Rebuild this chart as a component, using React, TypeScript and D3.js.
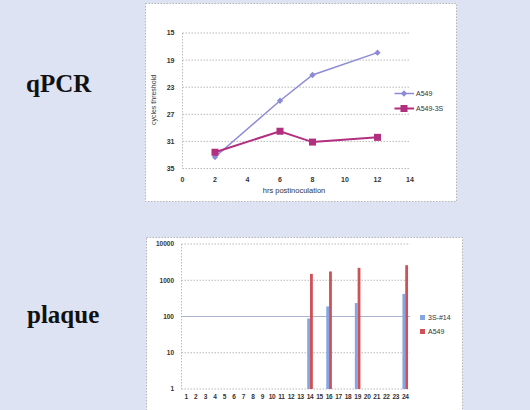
import React from 'react';
import * as d3 from 'd3';

// qPCR panel
const hours = [2, 6, 8, 12];
const ctA549 = [33.3, 25.0, 21.2, 17.9];
const ctA5493S = [32.6, 29.5, 31.1, 30.4];
const ctTicks = [15, 19, 23, 27, 31, 35];
const hourTicks = [0, 2, 4, 6, 8, 10, 12, 14];

// plaque panel
const samples = ['1', '2', '3', '4', '5', '6', '7', '8', '9', '10', '11', '12', '13', '14', '15', '16', '17', '18', '19', '20', '21', '22', '23', '24'];
const plaque3S = [null, null, null, null, null, null, null, null, null, null, null, null, null, 88, null, 190, null, null, 235, null, null, null, null, 420];
const plaqueA549 = [null, null, null, null, null, null, null, null, null, null, null, null, null, 1500, null, 1750, null, null, 2200, null, null, null, null, 2600];
const logTicks = [1, 10, 100, 1000, 10000];

const BG = '#dde3f3';
const LAV = '#8d8bd6';
const MAG = '#b22f7f';
const BAR_BLUE = '#86a6e2';
const BAR_RED = '#cf5055';
const GRID = '#b9b9b9';
const TXT = '#333';
const SANS = 'Liberation Sans, Arial, sans-serif';

export default function App() {
  const x = d3.scaleLinear().domain([0, 14]).range([182.5, 410]);
  const y = d3.scaleLinear().domain([15, 35]).range([33, 168.5]);
  const line = d3.line<number>().x((_, i) => x(hours[i])).y(d => y(d));

  const xb = d3.scaleBand().domain(samples).range([181.5, 410]);
  const yb = d3.scaleLog().domain([1, 10000]).range([389, 244]);
  const bw = 2.8;

  // small square diamond like Excel's marker
  const diamond = d3.symbol(d3.symbolSquare, 20)()!;

  return (
    <svg width={530} height={410} style={{ position: 'absolute', left: 0, top: 0 }}>
      <rect x={0} y={0} width={530} height={410} fill={BG} />

      {/* panel titles */}
      <text x={26} y={92} fontFamily="Liberation Serif, Times New Roman, serif" fontWeight="bold" fontSize={25} fill="#111">qPCR</text>
      <text x={27} y={323} fontFamily="Liberation Serif, Times New Roman, serif" fontWeight="bold" fontSize={25} fill="#111">plaque</text>

      {/* ---------- qPCR chart ---------- */}
      <rect x={145.5} y={3.5} width={311} height={198} fill="#fff" stroke="#b5b5b5" strokeDasharray="1.5,1.5" />
      {ctTicks.map(t => (
        <g key={t}>
          <line x1={x(0)} x2={x(14)} y1={y(t)} y2={y(t)} stroke={GRID} strokeDasharray="1.5,1.5" />
          <text x={x(0) - 8} y={y(t)} dy="0.35em" textAnchor="end" fontFamily={SANS} fontSize={7} fontWeight="bold" fill={TXT}>{t}</text>
        </g>
      ))}
      <line x1={x(0)} x2={x(0)} y1={y(15)} y2={y(35)} stroke={GRID} strokeDasharray="1.5,1.5" />
      {hourTicks.map(t => (
        <text key={t} x={x(t)} y={180} dy="0.35em" textAnchor="middle" fontFamily={SANS} fontSize={7} fontWeight="bold" fill={TXT}>{t}</text>
      ))}
      <text x={294} y={190} dy="0.35em" textAnchor="middle" fontFamily={SANS} fontSize={7.5} fill={TXT}>hrs postinoculation</text>
      <text transform={`translate(154,100) rotate(-90)`} dy="0.35em" textAnchor="middle" fontFamily={SANS} fontSize={7} fill={TXT}>cycles threshold</text>

      <path d={line(ctA549)!} fill="none" stroke={LAV} strokeWidth={1.5} />
      {ctA549.map((v, i) => (
        <path key={i} d={diamond} transform={`translate(${x(hours[i])},${y(v)}) rotate(45)`} fill={LAV} />
      ))}
      <path d={line(ctA5493S)!} fill="none" stroke={MAG} strokeWidth={2} />
      {ctA5493S.map((v, i) => (
        <rect key={i} x={x(hours[i]) - 3.5} y={y(v) - 3.5} width={7} height={7} fill={MAG} />
      ))}

      {/* legend */}
      <line x1={394.5} x2={414} y1={93.5} y2={93.5} stroke={LAV} strokeWidth={1.5} />
      <path d={diamond} transform="translate(404,93.5) rotate(45)" fill={LAV} />
      <text x={416} y={93.5} dy="0.35em" fontFamily={SANS} fontSize={7} fill={TXT}>A549</text>
      <line x1={394.5} x2={414} y1={108.5} y2={108.5} stroke={MAG} strokeWidth={2} />
      <rect x={400.5} y={105} width={7} height={7} fill={MAG} />
      <text x={416} y={108.5} dy="0.35em" fontFamily={SANS} fontSize={7} fill={TXT}>A549-3S</text>

      {/* ---------- plaque chart ---------- */}
      <rect x={146.5} y={237.5} width={316} height={180} fill="#fff" stroke="#b5b5b5" strokeDasharray="1.5,1.5" />
      {logTicks.map(t => (
        <g key={t}>
          <line x1={181.5} x2={410} y1={yb(t)} y2={yb(t)}
            stroke={t === 100 ? '#a9b3cf' : GRID}
            strokeDasharray={t === 100 ? undefined : '1.5,1.5'} />
          <text x={174} y={yb(t)} dy="0.35em" textAnchor="end" fontFamily={SANS} fontSize={6.5} fontWeight="bold" fill={TXT}>{t}</text>
        </g>
      ))}
      <line x1={181.5} x2={181.5} y1={yb(10000)} y2={yb(1)} stroke={GRID} strokeDasharray="1.5,1.5" />
      {samples.map(s => (
        <text key={s} x={xb(s)! + xb.bandwidth() / 2} y={397} dy="0.35em" textAnchor="middle"
          fontFamily={SANS} fontSize={6.5} fontWeight="bold" fill={TXT} letterSpacing={-0.3}>{s}</text>
      ))}
      {samples.map((s, i) => {
        const cx = xb(s)! + xb.bandwidth() / 2;
        const b = plaque3S[i];
        const r = plaqueA549[i];
        return (
          <g key={s}>
            {b != null && <rect x={cx - bw} y={yb(b)} width={bw} height={yb(1) - yb(b)} fill={BAR_BLUE} />}
            {r != null && <rect x={cx} y={yb(r)} width={bw} height={yb(1) - yb(r)} fill={BAR_RED} />}
          </g>
        );
      })}

      {/* legend */}
      <rect x={420} y={315} width={5} height={5} fill={BAR_BLUE} />
      <text x={428} y={317.5} dy="0.35em" fontFamily={SANS} fontSize={7} fill={TXT}>3S-#14</text>
      <rect x={420} y={329} width={5} height={5} fill={BAR_RED} />
      <text x={428} y={331.5} dy="0.35em" fontFamily={SANS} fontSize={7} fill={TXT}>A549</text>
    </svg>
  );
}
